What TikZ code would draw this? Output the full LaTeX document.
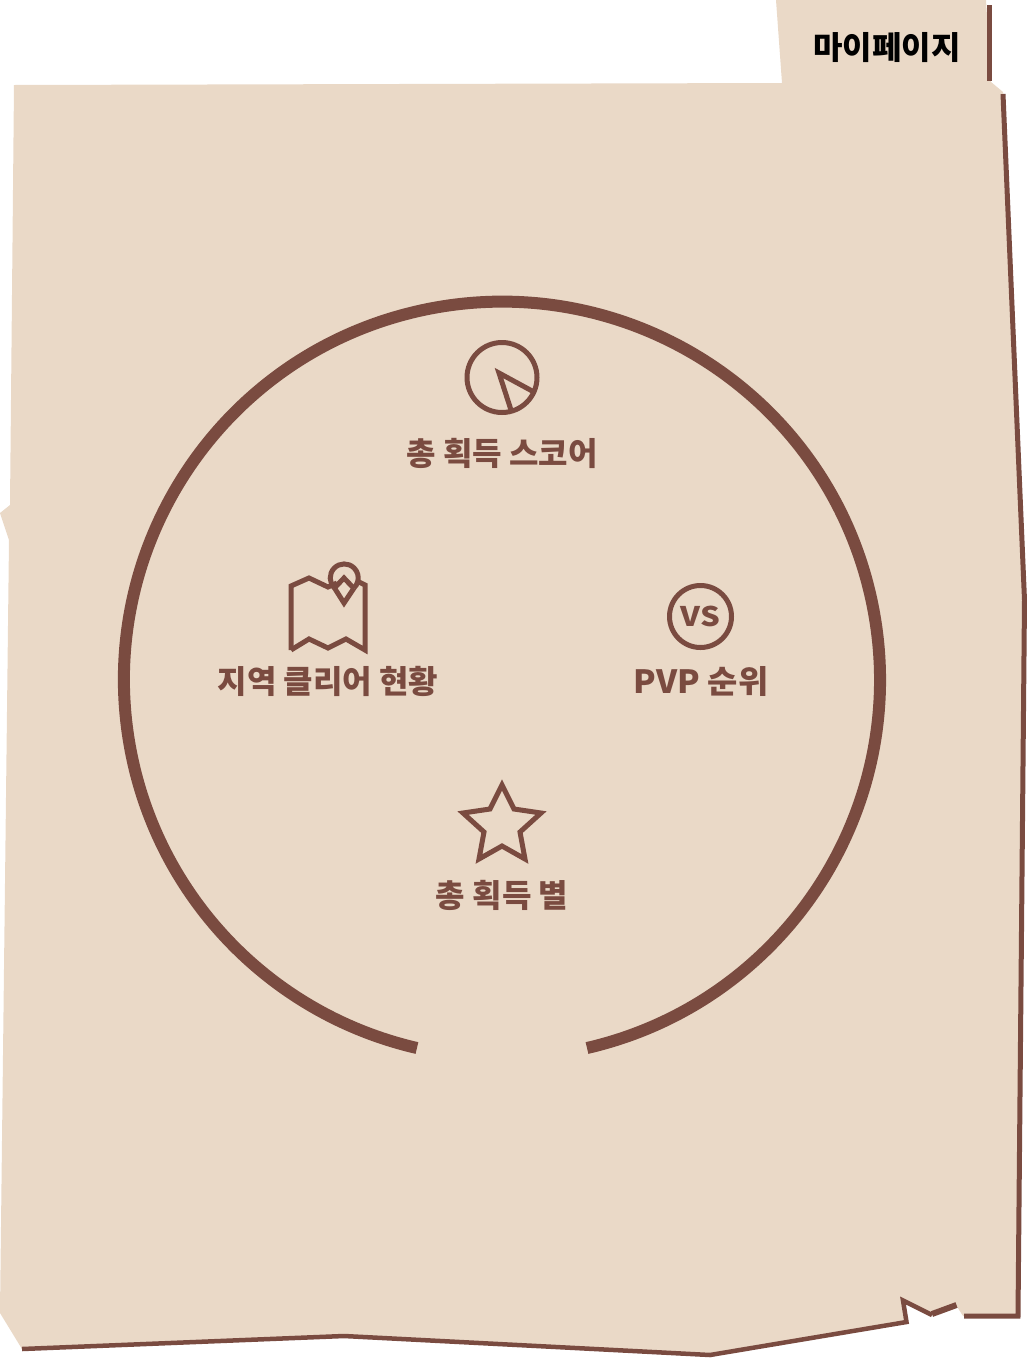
\documentclass[tikz,border=0pt]{standalone}
\usepackage{fontspec}
\newfontfamily\krfont{Noto Sans CJK KR}[BoldFont={Noto Sans CJK KR Black}]
\definecolor{paper}{HTML}{EAD9C7}
\definecolor{ink}{HTML}{7A4B40}
\tikzset{
  icon/.style={draw=ink,line width=5pt,line join=miter},
  edge/.style={draw=ink,line width=5pt,line join=miter},
  caption/.style={text=ink,font=\krfont\bfseries\fontsize{32}{36}\selectfont,inner sep=0pt},
}
\begin{document}
\begin{tikzpicture}[x=1pt,y=-1pt]
\useasboundingbox (0,0) rectangle (1027,1358);
% paper
\fill[paper] (776,0) -- (986,0) -- (991,82) -- (1003,92) -- (1026,600) -- (1019,1316) -- (963,1316) -- (956,1305) -- (932,1315) -- (903,1300) -- (907,1322) -- (710,1355) -- (344,1336) -- (22,1349) -- (0,1313) -- (9,540) -- (0,513) -- (10,505) -- (14,85) -- (782,83) -- cycle;
% outline
\draw[edge] (989,5) -- (989,81);
\draw[edge] (1003,94) -- (1024.5,600) -- (1018,1316) -- (964,1316);
\draw[draw=ink,line width=6pt] (956.5,1305) -- (932,1314);
\draw[draw=ink,line width=4.5pt] (932,1315) -- (903,1300.5) -- (906.5,1322) -- (710,1355) -- (344,1336) -- (22,1349);
% tab title
\node[inner sep=0pt,font=\krfont\bfseries\fontsize{32}{36}\selectfont,text=black] (title) at (887,48) {마이페이지};
% ring
\coordinate (ringc) at (502,680);
\draw[ink,line width=12pt] (587,1048) arc[start angle=-77,end angle=257,radius=378pt];
% score
\coordinate (scorec) at (502,377.5);
\draw[icon] (scorec) circle[radius=35];
\draw[icon] (534,392) -- (499,373) -- (511,410);
\node[caption] (score) at (502,453) {총 획득 스코어};
% map
\draw[icon] (291,650) -- (291,586) -- (309,578) -- (328,587) -- (337,583);
\draw[icon] (359,582) -- (365,585) -- (365,650) -- (346,639) -- (328,648) -- (309,639) -- (291,650);
\draw[icon] (334.5,588) arc[start angle=226,end angle=-46,radius=14pt];
\draw[icon] (334.5,588) -- (344,603) -- (354,588);
\draw[icon] (334,588.5) -- (344,578) -- (354,588.5);
\node[caption] (region) at (328,681) {지역 클리어 현황};
% vs
\coordinate (vsc) at (700.5,616.5);
\draw[icon] (vsc) circle[radius=31];
\node[inner sep=0pt,text=ink,xscale=1.15,font=\krfont\bfseries\fontsize{27}{30}\selectfont] (vs) at (vsc) {VS};
\node[caption,xscale=1.03] (pvp) at (701,681) {PVP 순위};
% star
\draw[icon] (502,785) -- (514,809) -- (541,813) -- (520,832) -- (525,859) -- (502,846) -- (479,859) -- (484,832) -- (463,813) -- (490,809) -- cycle;
\node[caption] (stars) at (502,895) {총 획득 별};
\end{tikzpicture}
\end{document}
